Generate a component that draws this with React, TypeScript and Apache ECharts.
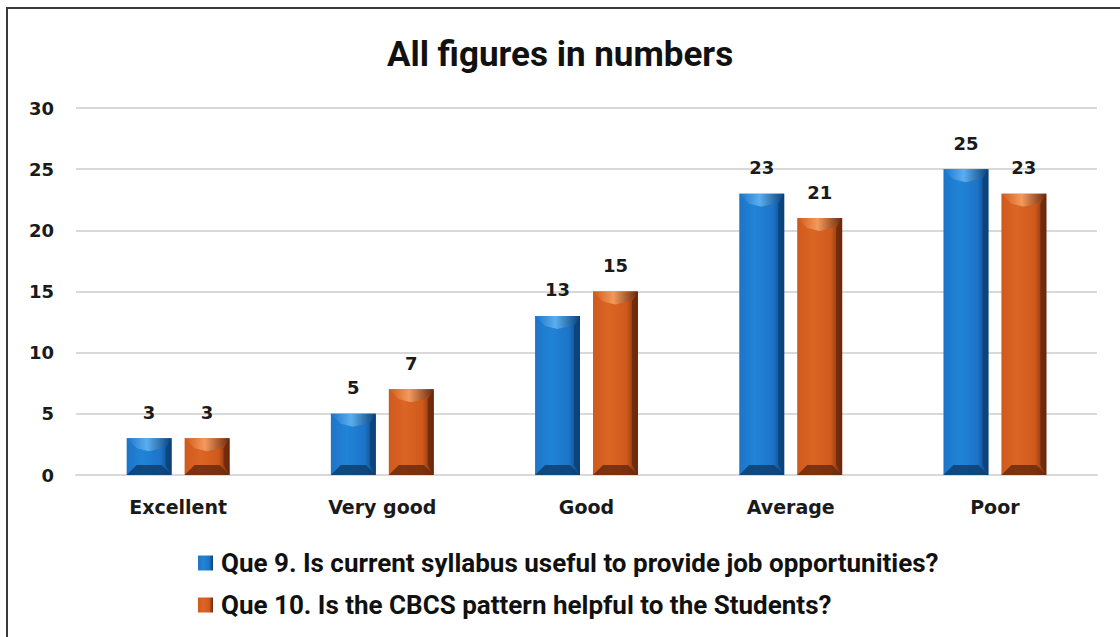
import React, { useEffect, useRef } from "react";
import * as echarts from "echarts";

const categories = ["Excellent", "Very good", "Good", "Average", "Poor"];
const seriesNames = [
  "Que 9. Is current syllabus useful to provide job opportunities?",
  "Que 10. Is the CBCS pattern helpful to the Students?",
];
const que9 = [3, 5, 13, 23, 25];
const que10 = [3, 7, 15, 21, 23];

const palettes = [
  { light: "#3a97e6", main: "#1d74c8", mid: "#2184d6", dark: "#0b4178", top: "#5aaef0", bottom: "#0e3f70" },
  { light: "#ee8a4a", main: "#cf5a1c", mid: "#dc6524", dark: "#6a280c", top: "#f39a5c", bottom: "#6a2a0d" },
];

const BAR_W = 0.22;
const BAR_GAP = 0.29;

function barFill(p: any) {
  return new echarts.graphic.LinearGradient(0, 0, 1, 0, [
    { offset: 0, color: p.main },
    { offset: 0.35, color: p.mid },
    { offset: 0.75, color: p.main },
    { offset: 1, color: p.dark },
  ]);
}

export default function App() {
  const ref = useRef<HTMLDivElement>(null);
  useEffect(() => {
    if (!ref.current) return;
    const chart = echarts.init(ref.current, undefined, { renderer: "svg" });
    const makeBevel = (sIdx: number) => (params: any, api: any) => {
      const idx = api.value(0);
      const val = api.value(1);
      const top = api.coord([idx, val]);
      const base = api.coord([idx, 0]);
      const band = api.size([1, 0])[0];
      const w = band * BAR_W;
      const gap = w * BAR_GAP;
      const total = w * 2 + gap;
      const x = top[0] - total / 2 + sIdx * (w + gap);
      const y = top[1];
      const yb = base[1];
      const h = yb - y;
      const b = Math.min(10, h / 3.5);
      const p = palettes[sIdx];
      return {
        type: "group",
        silent: true,
        children: [
          {
            type: "polygon",
            shape: { points: [[x, y], [x + w, y], [x + w - b, y + b], [x + w / 2, y + b * 1.3], [x + b, y + b]] },
            style: {
              fill: new echarts.graphic.LinearGradient(0, 0, 1, 0, [
                { offset: 0, color: p.main },
                { offset: 0.45, color: p.top },
                { offset: 1, color: p.dark },
              ]),
            },
          },
          {
            type: "polygon",
            shape: { points: [[x + w, y], [x + w, yb], [x + w - b * 0.6, yb - b], [x + w - b * 0.6, y + b]] },
            style: { fill: p.dark, opacity: 0.8 },
          },
          {
            type: "polygon",
            shape: { points: [[x, yb], [x + w, yb], [x + w - b, yb - b], [x + b, yb - b]] },
            style: { fill: p.bottom, opacity: 0.85 },
          },
        ],
      };
    };
    const labelStyle = {
      show: true,
      position: "top" as const,
      distance: 17,
      fontFamily: "DejaVu Sans",
      fontWeight: "bold" as const,
      fontSize: 18,
      color: "#1a1a1a",
    };
    chart.setOption({
      animation: false,
      backgroundColor: "#ffffff",
      graphic: [
        {
          type: "rect",
          shape: { x: 7, y: 8, width: 1300, height: 800 },
          style: { fill: "none", stroke: "#3a3a3a", lineWidth: 2 },
          silent: true,
        },
      ],
      title: {
        text: "All figures in numbers",
        left: "center",
        top: 32,
        textStyle: { fontFamily: "Roboto", fontWeight: "bold", fontSize: 35, color: "#111" },
      },
      legend: {
        orient: "vertical",
        left: 193,
        top: 545,
        itemGap: 16,
        itemWidth: 15,
        itemHeight: 15,
        itemStyle: { borderWidth: 0 },
        icon: "rect",
        data: seriesNames,
        textStyle: { fontFamily: "Roboto", fontWeight: "bold", fontSize: 26, color: "#111", padding: [0, 0, 0, 3] },
      },
      grid: { left: 76, right: 23, top: 108, bottom: 162, containLabel: false },
      xAxis: {
        type: "category",
        data: categories,
        axisTick: { show: false },
        axisLine: { lineStyle: { color: "#d9d9d9", width: 2 } },
        axisLabel: {
          margin: 22,
          fontFamily: "DejaVu Sans",
          fontWeight: "bold",
          fontSize: 19,
          color: "#1a1a1a",
        },
      },
      yAxis: {
        type: "value",
        min: 0,
        max: 30,
        interval: 5,
        axisLine: { show: false },
        axisTick: { show: false },
        splitLine: { lineStyle: { color: "#d9d9d9", width: 2 } },
        axisLabel: {
          margin: 22,
          fontFamily: "DejaVu Sans",
          fontWeight: "bold",
          fontSize: 18,
          color: "#1a1a1a",
        },
      },
      series: [
        {
          name: seriesNames[0],
          type: "bar",
          data: que9,
          barWidth: BAR_W * 100 + "%",
          barGap: BAR_GAP * 100 + "%",
          itemStyle: { color: barFill(palettes[0]) },
          label: labelStyle,
        },
        {
          name: seriesNames[1],
          type: "bar",
          data: que10,
          barWidth: BAR_W * 100 + "%",
          barGap: BAR_GAP * 100 + "%",
          itemStyle: { color: barFill(palettes[1]) },
          label: labelStyle,
        },
        {
          type: "custom",
          silent: true,
          z: 3,
          renderItem: makeBevel(0),
          data: que9.map((v, i) => [i, v]),
          encode: { x: 0, y: 1 },
          tooltip: { show: false },
        },
        {
          type: "custom",
          silent: true,
          z: 3,
          renderItem: makeBevel(1),
          data: que10.map((v, i) => [i, v]),
          encode: { x: 0, y: 1 },
          tooltip: { show: false },
        },
      ],
    });
    return () => chart.dispose();
  }, []);
  return (
    <div
      ref={ref}
      style={{ position: "fixed", left: 0, top: 0, width: 1120, height: 637 }}
    />
  );
}
